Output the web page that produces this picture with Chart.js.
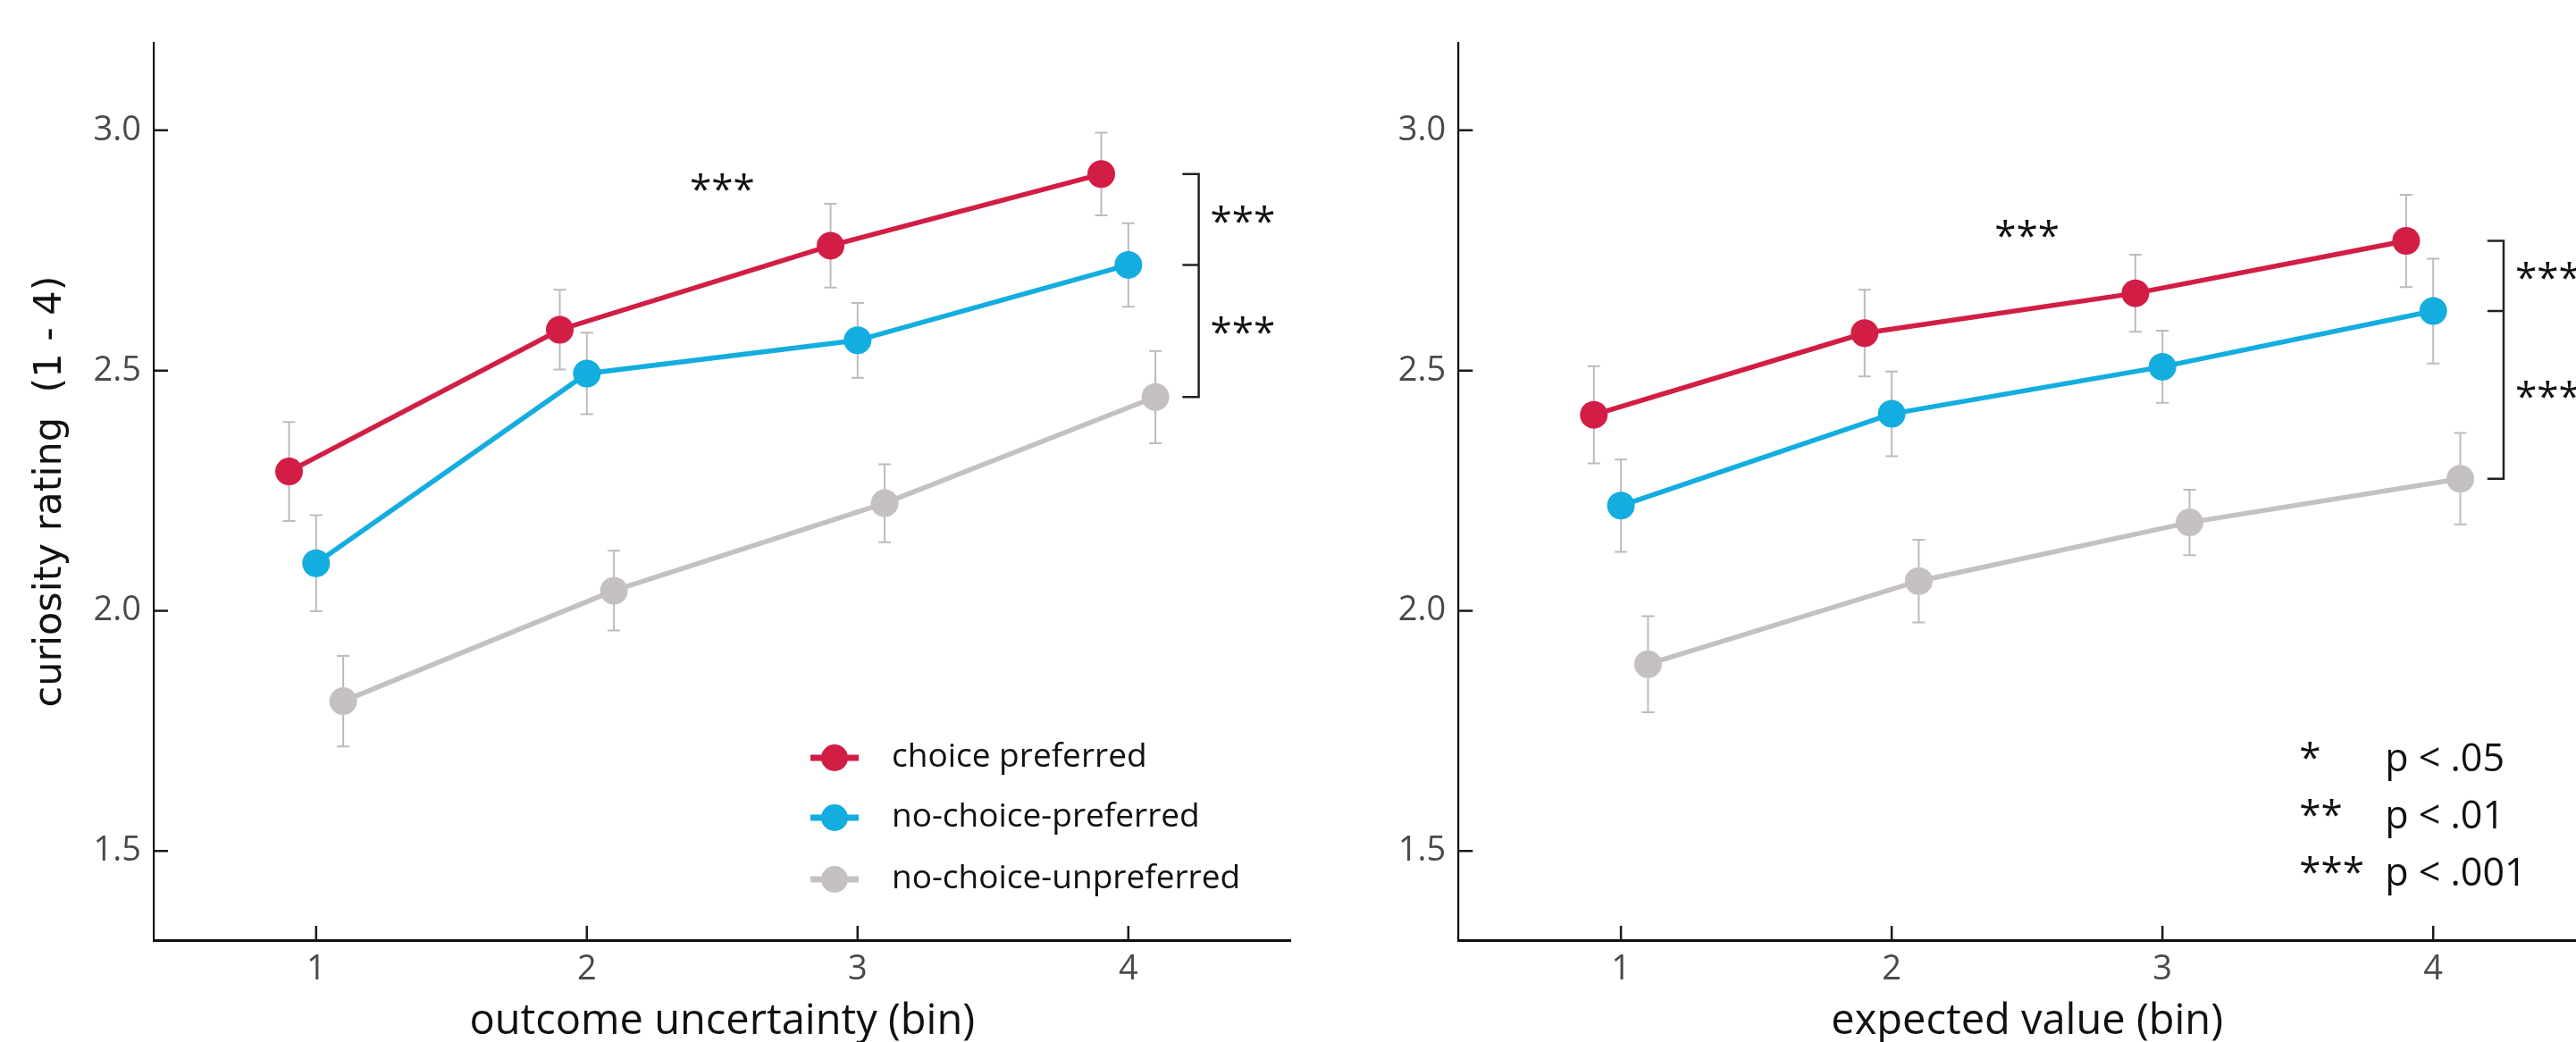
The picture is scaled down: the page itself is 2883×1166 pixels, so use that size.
<!DOCTYPE html>
<html><head><meta charset="utf-8">
<script src="https://cdn.jsdelivr.net/npm/chart.js@4.4.1/dist/chart.umd.min.js"></script>
<style>
html,body{margin:0;padding:0;background:#fff;width:2883px;height:1166px;overflow:hidden;position:relative}
canvas{position:absolute;top:0}
#c1{left:0}
#c2{left:1460px}
</style></head><body>
<canvas id="c1" width="1500" height="1200"></canvas>
<canvas id="c2" width="1500" height="1200"></canvas>
<script>
// ---------------- data ----------------
const bins = [1, 2, 3, 4];
const xTickLabels = ['1', '2', '3', '4'];
const yTickValues = [1.5, 2.0, 2.5, 3.0];
const yTickLabels = ['1.5', '2.0', '2.5', '3.0'];
const seriesNames = ['choice preferred', 'no-choice-preferred', 'no-choice-unpreferred'];

// Panel A: outcome uncertainty (bin)
const uncChoicePref      = [2.290, 2.585, 2.760, 2.909];
const uncChoicePrefSE    = [0.103, 0.083, 0.087, 0.086];
const uncNoChoicePref    = [2.099, 2.494, 2.563, 2.720];
const uncNoChoicePrefSE  = [0.100, 0.085, 0.078, 0.087];
const uncNoChoiceUnpref  = [1.812, 2.042, 2.224, 2.445];
const uncNoChoiceUnprefSE= [0.094, 0.083, 0.081, 0.096];

// Panel B: expected value (bin)
const evChoicePref       = [2.408, 2.578, 2.661, 2.770];
const evChoicePrefSE     = [0.101, 0.090, 0.080, 0.096];
const evNoChoicePref     = [2.219, 2.410, 2.508, 2.624];
const evNoChoicePrefSE   = [0.096, 0.088, 0.075, 0.109];
const evNoChoiceUnpref   = [1.889, 2.062, 2.184, 2.275];
const evNoChoiceUnprefSE = [0.100, 0.086, 0.068, 0.095];

const bracketLabels = ['***', '***'];
const trendLabel = '***';
const sigLabels = ['*', '**', '***'];
const pLabels = ['p < .05', 'p < .01', 'p < .001'];

// ---------------- style ----------------
const COLORS = ['#D21E45', '#14ADDF', '#C4C1C0'];
const DODGE = [-0.1, 0, 0.1];
const FONT = "'Open Sans', 'DejaVu Sans', sans-serif";
Chart.defaults.font.family = FONT;

function pts(vals, dodge) { return bins.map((b, i) => ({ x: b + dodge, y: vals[i] })); }

function inkText(ctx, text, x, cy, align) {
  ctx.textAlign = align; ctx.textBaseline = 'alphabetic';
  const m = ctx.measureText(text);
  const off = (m.actualBoundingBoxAscent - m.actualBoundingBoxDescent) / 2;
  let xx = x;
  if (align === 'left') xx = x + m.actualBoundingBoxLeft;
  ctx.fillText(text, xx, cy + off);
}

const errorBarPlugin = {
  id: 'errorBars',
  beforeDatasetsDraw(chart) {
    const { ctx, scales: { x, y } } = chart;
    ctx.save();
    ctx.strokeStyle = '#BDBBBB'; ctx.lineWidth = 2;
    chart.data.datasets.forEach(ds => {
      ds.data.forEach((p, i) => {
        const px = x.getPixelForValue(p.x);
        const yt = y.getPixelForValue(p.y + ds.errors[i]);
        const yb = y.getPixelForValue(p.y - ds.errors[i]);
        ctx.beginPath();
        ctx.moveTo(px, yt); ctx.lineTo(px, yb);
        ctx.moveTo(px - 7, yt); ctx.lineTo(px + 7, yt);
        ctx.moveTo(px - 7, yb); ctx.lineTo(px + 7, yb);
        ctx.stroke();
      });
    });
    ctx.restore();
  }
};

const innerTicksPlugin = {
  id: 'innerTicks',
  afterDraw(chart) {
    const { ctx, chartArea: a, scales: { x, y } } = chart;
    ctx.save(); ctx.strokeStyle = '#1a1a1a'; ctx.lineWidth = 2.5;
    ctx.beginPath();
    x.ticks.forEach(t => { const px = x.getPixelForValue(t.value); ctx.moveTo(px, a.bottom); ctx.lineTo(px, a.bottom - 16); });
    y.ticks.forEach(t => { const py = y.getPixelForValue(t.value); ctx.moveTo(a.left, py); ctx.lineTo(a.left + 16, py); });
    ctx.stroke(); ctx.restore();
  }
};

const sigPlugin = {
  id: 'sig',
  afterDatasetsDraw(chart, args, o) {
    const { ctx, scales: { x, y } } = chart;
    ctx.save();
    ctx.fillStyle = '#111'; ctx.strokeStyle = '#222';
    ctx.font = `${o.starSize}px ${FONT}`;
    inkText(ctx, trendLabel, x.getPixelForValue(o.trendX), y.getPixelForValue(o.trendY), 'center');
    const ys = chart.data.datasets.map(ds => y.getPixelForValue(ds.data[ds.data.length - 1].y));
    const x0 = x.getPixelForValue(o.bx0), x1 = x.getPixelForValue(o.bx1);
    ctx.lineWidth = 2.5;
    ctx.beginPath();
    ctx.moveTo(x0, ys[0]); ctx.lineTo(x1, ys[0]); ctx.lineTo(x1, ys[2]); ctx.lineTo(x0, ys[2]);
    ctx.moveTo(x0, ys[1]); ctx.lineTo(x1, ys[1]);
    ctx.stroke();
    inkText(ctx, bracketLabels[0], x1 + 14, (ys[0] + ys[1]) / 2 - 6, 'left');
    inkText(ctx, bracketLabels[1], x1 + 14, (ys[1] + ys[2]) / 2 - 6, 'left');
    ctx.restore();
  }
};

const keysPlugin = {
  id: 'keys',
  afterDraw(chart, args, o) {
    const { ctx, chartArea: a } = chart;
    ctx.save();
    if (o.kind === 'series') {
      ctx.font = `${o.textSize}px ${FONT}`;
      const xh = ctx.measureText('x').actualBoundingBoxAscent;
      chart.data.datasets.forEach((ds, k) => {
        const cy = a.top + o.rows[k];
        const mx = a.left + o.markerDX;
        ctx.strokeStyle = ds.borderColor; ctx.lineWidth = 7;
        ctx.beginPath(); ctx.moveTo(mx - 27, cy); ctx.lineTo(mx + 27, cy); ctx.stroke();
        ctx.fillStyle = ds.borderColor;
        ctx.beginPath(); ctx.arc(mx, cy, 15, 0, Math.PI * 2); ctx.fill();
        ctx.fillStyle = '#111'; ctx.textAlign = 'left'; ctx.textBaseline = 'alphabetic';
        ctx.fillText(ds.label, a.left + o.textDX, cy + xh / 2);
      });
    } else {
      ctx.fillStyle = '#111'; ctx.textAlign = 'left'; ctx.textBaseline = 'alphabetic';
      sigLabels.forEach((s, k) => {
        const by = a.top + o.rows[k];
        ctx.font = `${o.starSize}px ${FONT}`;
        ctx.fillText(s, a.left + o.starDX, by);
        ctx.font = `${o.textSize}px ${FONT}`;
        ctx.fillText(pLabels[k], a.left + o.textDX, by);
      });
    }
    ctx.restore();
  }
};

function buildChart(id, cfg) {
  return new Chart(document.getElementById(id), {
    type: 'line',
    data: {
      datasets: cfg.series.map((s, k) => ({
        label: seriesNames[k], data: pts(s[0], DODGE[k]), errors: s[1],
        borderColor: COLORS[k], backgroundColor: COLORS[k], pointBackgroundColor: COLORS[k],
        pointBorderWidth: 0, pointRadius: 15.5, pointHoverRadius: 15.5, borderWidth: 5.5, tension: 0
      }))
    },
    options: {
      responsive: false, animation: false, events: [],
      layout: { padding: { top: 48, right: cfg.padRight, left: 0, bottom: 0 } },
      plugins: { legend: { display: false }, tooltip: { enabled: false }, sig: cfg.sig, keys: cfg.keys },
      scales: {
        x: {
          type: 'linear', min: 0.4, max: 4.6,
          afterBuildTicks: s => { s.ticks = bins.map(v => ({ value: v })); },
          afterFit: s => { s.height = 148; },
          grid: { display: false, drawTicks: false },
          border: { display: true, color: '#111', width: 3 },
          ticks: { callback: (v, i) => xTickLabels[i], font: { size: 38 }, color: '#4a4a4a', padding: 10, autoSkip: false, maxRotation: 0 },
          title: { display: true, text: cfg.xTitle, font: { size: 47 }, color: '#111', padding: { top: 0, bottom: 28 } }
        },
        y: {
          type: 'linear', min: 1.3147, max: 3.182,
          afterBuildTicks: s => { s.ticks = yTickValues.map(v => ({ value: v })); },
          afterFit: s => { s.width = cfg.yWidth; },
          grid: { display: false, drawTicks: false },
          border: { display: true, color: '#111', width: 2.2 },
          ticks: { callback: (v, i) => yTickLabels[i], font: { size: 38 }, color: '#4a4a4a', padding: 14, autoSkip: false },
          title: { display: cfg.yTitle !== '', text: cfg.yTitle, font: { size: 43, family: "'DejaVu Sans', sans-serif" }, color: '#111', padding: { top: 31, bottom: 0 } }
        }
      }
    },
    plugins: [errorBarPlugin, innerTicksPlugin, sigPlugin, keysPlugin]
  });
}

buildChart('c1', {
  series: [[uncChoicePref, uncChoicePrefSE], [uncNoChoicePref, uncNoChoicePrefSE], [uncNoChoiceUnpref, uncNoChoiceUnprefSE]],
  xTitle: 'outcome uncertainty (bin)', yTitle: 'curiosity rating  (1 - 4)', yWidth: 172, padRight: 55.4,
  sig: { starSize: 44, trendX: 2.5, trendY: 2.892, bx0: 4.2, bx1: 4.26 },
  keys: { kind: 'series', textSize: 37, markerDX: 762, textDX: 826, rows: [800, 867, 936] }
});

buildChart('c2', {
  series: [[evChoicePref, evChoicePrefSE], [evNoChoicePref, evNoChoicePrefSE], [evNoChoiceUnpref, evNoChoiceUnprefSE]],
  xTitle: 'expected value (bin)', yTitle: '', yWidth: 172.3, padRight: 55,
  sig: { starSize: 44, trendX: 2.5, trendY: 2.795, bx0: 4.2, bx1: 4.26 },
  keys: { kind: 'p', starSize: 44, textSize: 43, starDX: 941, textDX: 1037, rows: [815, 879, 943] }
});
</script>
</body></html>
